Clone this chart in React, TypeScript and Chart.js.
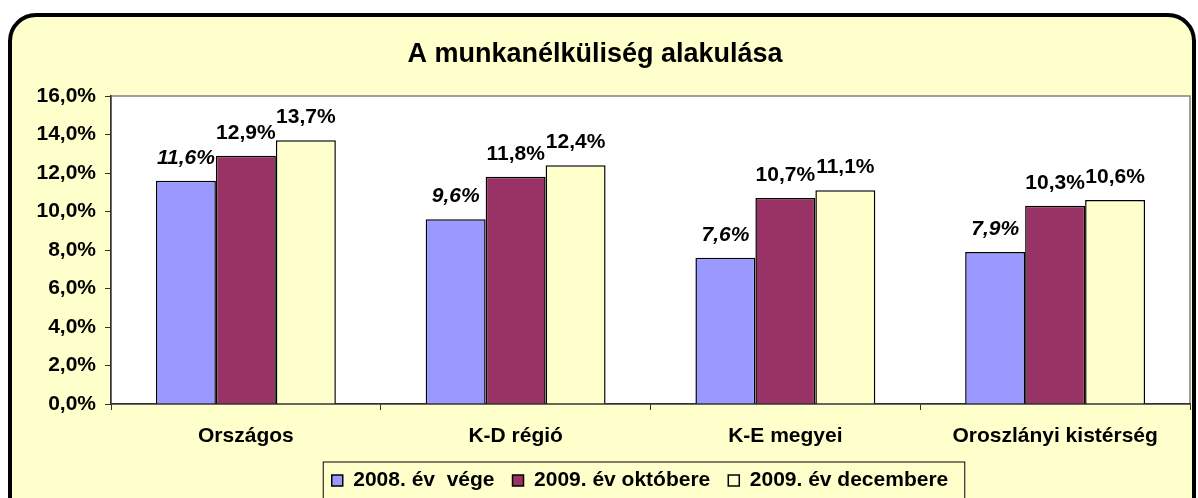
import React, { useEffect, useRef } from 'react';
import { Chart, registerables } from 'chart.js';

Chart.register(...registerables);

const FONT = "'Liberation Sans', Arial, Helvetica, sans-serif";

const categories = ['Országos', 'K-D régió', 'K-E megyei', 'Oroszlányi kistérség'];
const seriesLabels = ['2008. év  vége', '2009. év októbere', '2009. év decembere'];
const values2008 = [11.6, 9.6, 7.6, 7.9];
const values2009Okt = [12.9, 11.8, 10.7, 10.3];
const values2009Dec = [13.7, 12.4, 11.1, 10.6];
const seriesColors = ['#9999FF', '#993366', '#FFFFCC'];
const titleText = 'A munkanélküliség alakulása';
const yMin = 0;
const yMax = 16;
const yStep = 2;

const fmt = (v: number) => v.toFixed(1).replace('.', ',') + '%';

export default function App() {
  const ref = useRef<HTMLCanvasElement>(null);

  useEffect(() => {
    if (!ref.current) return;

    const plotBg = {
      id: 'plotBg',
      beforeDraw(chart: any) {
        const { ctx, chartArea: a } = chart;
        ctx.save();
        ctx.fillStyle = '#FFFFFF';
        ctx.fillRect(a.left, a.top, a.right - a.left, a.bottom - a.top);
        ctx.strokeStyle = '#808080';
        ctx.lineWidth = 1.5;
        ctx.strokeRect(a.left, a.top, a.right - a.left, a.bottom - a.top);
        ctx.restore();
      },
    };

    const legendShift = {
      id: 'legendShift',
      afterLayout(chart: any) {
        if (chart.legend) chart.legend.left += 90;
      },
      afterDraw(chart: any) {
        const lg = chart.legend;
        if (!lg || !lg.legendHitBoxes || !lg.legendHitBoxes.length) return;
        const hb = lg.legendHitBoxes;
        const left = Math.min(...hb.map((h: any) => h.left)) - 9;
        const right = Math.max(...hb.map((h: any) => h.left + h.width)) + 16;
        const cy = hb[0].top + hb[0].height / 2;
        const { ctx } = chart;
        ctx.save();
        ctx.strokeStyle = '#000';
        ctx.lineWidth = 1;
        ctx.strokeRect(left + 0.5, cy - 19 + 0.5, right - left, 60);
        ctx.restore();
      },
    };

    const dataLabels = {
      id: 'dataLabels',
      afterDatasetsDraw(chart: any) {
        const { ctx } = chart;
        ctx.save();
        ctx.fillStyle = '#000';
        ctx.textAlign = 'center';
        ctx.textBaseline = 'alphabetic';
        chart.data.datasets.forEach((ds: any, di: number) => {
          const meta = chart.getDatasetMeta(di);
          ctx.font = (di === 0 ? 'italic ' : '') + 'bold 21px ' + FONT;
          meta.data.forEach((bar: any, i: number) => {
            ctx.fillText(fmt(ds.data[i]), bar.x, bar.y - 17);
          });
        });
        ctx.restore();
      },
    };

    const chart = new Chart(ref.current, {
      type: 'bar',
      data: {
        labels: categories,
        datasets: [
          { label: seriesLabels[0], data: values2008, backgroundColor: seriesColors[0], borderColor: '#000', borderWidth: 1.5 },
          { label: seriesLabels[1], data: values2009Okt, backgroundColor: seriesColors[1], borderColor: '#000', borderWidth: 1.5 },
          { label: seriesLabels[2], data: values2009Dec, backgroundColor: seriesColors[2], borderColor: '#000', borderWidth: 1.5 },
        ],
      },
      options: {
        responsive: false,
        animation: false,
        events: [],
        datasets: { bar: { categoryPercentage: 0.667, barPercentage: 1 } },
        layout: { padding: { left: 0, right: 8, top: 0, bottom: -3 } },
        scales: {
          x: {
            grid: { display: true, drawOnChartArea: false, drawTicks: true, tickLength: 6, color: '#333', offset: true },
            border: { display: true, color: '#333', width: 1.5 },
            ticks: { color: '#000', font: { family: FONT, size: 21, weight: 'bold' }, padding: 14, maxRotation: 0 },
            afterFit(scale: any) { scale.height = 48; },
          },
          y: {
            min: yMin,
            max: yMax,
            grid: { display: true, drawOnChartArea: false, drawTicks: true, tickLength: 6, color: '#333' },
            border: { display: true, color: '#333', width: 1.5 },
            ticks: {
              stepSize: yStep,
              color: '#000',
              padding: 9,
              font: { family: FONT, size: 21, weight: 'bold' },
              callback: (v: any) => fmt(Number(v)),
            },
            afterFit(scale: any) { scale.width = 111; },
          },
        },
        plugins: {
          title: {
            display: true,
            text: titleText,
            color: '#000',
            font: { family: FONT, size: 27, weight: 'bold', lineHeight: 1.2 },
            padding: { top: 38, bottom: 25.6 },
          },
          legend: {
            display: true,
            position: 'bottom',
            labels: {
              color: '#000',
              boxWidth: 11,
              boxHeight: 11,
              padding: 18,
              font: { family: FONT, size: 21, weight: 'bold', lineHeight: 1.0 },
            },
          },
          tooltip: { enabled: false },
        },
      },
      plugins: [plotBg, legendShift, dataLabels],
    } as any);

    return () => chart.destroy();
  }, []);

  return (
    <div style={{ position: 'fixed', left: 0, top: 0, width: 1198, height: 498, overflow: 'hidden', background: '#FFFFFF' }}>
      <div
        style={{
          position: 'absolute',
          left: 8,
          top: 13,
          width: 1188,
          height: 540,
          boxSizing: 'border-box',
          border: '4px solid #000',
          borderRadius: 28,
          background: '#FFFFCC',
        }}
      />
      <canvas ref={ref} width={1198} height={498} style={{ position: 'absolute', left: 0, top: 0, width: 1198, height: 498 }} />
    </div>
  );
}
